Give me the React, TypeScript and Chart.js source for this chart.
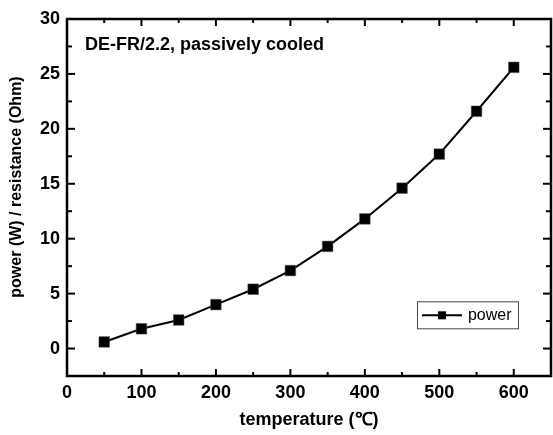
import React, { useEffect, useRef } from "react";
import { Chart, registerables } from "chart.js";

Chart.register(...registerables);

const temperatures = [50, 100, 150, 200, 250, 300, 350, 400, 450, 500, 550, 600];
const power = [0.6, 1.8, 2.6, 4.0, 5.4, 7.1, 9.3, 11.8, 14.6, 17.7, 21.6, 25.6];
const xTickValues = [0, 100, 200, 300, 400, 500, 600];
const xMinorValues = [50, 150, 250, 350, 450, 550];
const yTickValues = [0, 5, 10, 15, 20, 25, 30];
const yMinorValues = [-2.5, 2.5, 7.5, 12.5, 17.5, 22.5, 27.5];
const seriesLabel = "power";
const annotationText = "DE-FR/2.2, passively cooled";
const xTitle = "temperature (\u2103)";
const yTitle = "power (W) / resistance (Ohm)";

const FONT = "'Liberation Sans', Arial, Helvetica, sans-serif";

const framePlugin = {
  id: "frame",
  afterDraw(chart: any) {
    const { ctx, chartArea } = chart;
    const { left, right, top, bottom } = chartArea;
    const xs = chart.scales.x;
    const ys = chart.scales.y;
    ctx.save();
    ctx.strokeStyle = "#000";
    ctx.lineWidth = 2.5;
    ctx.strokeRect(left, top, right - left, bottom - top);
    ctx.lineWidth = 2;
    const tick = (x1: number, y1: number, x2: number, y2: number) => {
      ctx.beginPath();
      ctx.moveTo(x1, y1);
      ctx.lineTo(x2, y2);
      ctx.stroke();
    };
    xTickValues.forEach((v) => {
      const px = xs.getPixelForValue(v);
      tick(px, bottom, px, bottom - 7);
      tick(px, top, px, top + 7);
    });
    xMinorValues.forEach((v) => {
      const px = xs.getPixelForValue(v);
      tick(px, bottom, px, bottom - 4);
      tick(px, top, px, top + 4);
    });
    yTickValues.forEach((v) => {
      const py = ys.getPixelForValue(v);
      tick(left, py, left + 8, py);
      tick(right, py, right - 8, py);
    });
    yMinorValues.forEach((v) => {
      const py = ys.getPixelForValue(v);
      tick(left, py, left + 5, py);
      tick(right, py, right - 5, py);
    });

    ctx.fillStyle = "#000";
    ctx.textBaseline = "middle";

    // y axis title
    ctx.save();
    ctx.translate(17, 187);
    ctx.rotate(-Math.PI / 2);
    ctx.textAlign = "center";
    ctx.font = `bold 16px ${FONT}`;
    ctx.fillText(yTitle, 0, 0);
    ctx.restore();

    // annotation text
    ctx.font = `bold 18px ${FONT}`;
    ctx.textAlign = "left";
    ctx.fillText(annotationText, left + 18, top + 26);

    // legend box
    const bx = xs.getPixelForValue(470);
    const by = ys.getPixelForValue(4.3);
    const bw = 101;
    const bh = 27;
    ctx.lineWidth = 1;
    ctx.strokeStyle = "#444";
    ctx.strokeRect(bx + 0.5, by + 0.5, bw, bh);
    const cy = by + bh / 2 + 0.5;
    ctx.strokeStyle = "#000";
    ctx.lineWidth = 2;
    tick(bx + 5, cy, bx + 45, cy);
    ctx.fillStyle = "#000";
    ctx.fillRect(bx + 21, cy - 4, 8, 8);
    ctx.font = `16px ${FONT}`;
    ctx.fillText(seriesLabel, bx + 51, cy);
    ctx.restore();
  },
};

export default function App() {
  const ref = useRef<HTMLCanvasElement | null>(null);
  useEffect(() => {
    document.body.style.margin = "0";
    if (!ref.current) return;
    const chart = new Chart(ref.current, {
      type: "line",
      data: {
        datasets: [
          {
            label: seriesLabel,
            data: temperatures.map((t, i) => ({ x: t, y: power[i] })),
            borderColor: "#000",
            backgroundColor: "#000",
            borderWidth: 2,
            pointStyle: "rect",
            pointRadius: 7.5,
            pointBorderWidth: 0.5,
            pointBorderColor: "#555",
            tension: 0,
          },
        ],
      },
      options: {
        animation: false,
        responsive: false,
        layout: { autoPadding: false, padding: { top: 19, right: 2, left: 0, bottom: 0 } },
        plugins: {
          legend: { display: false },
          tooltip: { enabled: false },
        },
        scales: {
          x: {
            type: "linear",
            min: 0,
            max: 650,
            grid: { display: false, drawTicks: false },
            border: { display: false },
            afterBuildTicks: (s: any) => {
              s.ticks = xTickValues.map((v) => ({ value: v }));
            },
            afterFit: (s: any) => {
              s.height = 59;
              s.paddingLeft = 0;
              s.paddingRight = 0;
            },
            ticks: {
              color: "#000",
              padding: 6,
              maxRotation: 0,
              font: { family: FONT, size: 18, weight: "bold" },
            },
            title: {
              display: true,
              text: xTitle,
              color: "#000",
              padding: { top: 0 },
              font: { family: FONT, size: 18, weight: "bold" },
            },
          },
          y: {
            type: "linear",
            min: -2.5,
            max: 30,
            grid: { display: false, drawTicks: false },
            border: { display: false },
            afterBuildTicks: (s: any) => {
              s.ticks = yTickValues.map((v) => ({ value: v }));
            },
            afterFit: (s: any) => {
              s.width = 67;
              s.paddingTop = 0;
              s.paddingBottom = 0;
            },
            ticks: {
              color: "#000",
              padding: 7,
              font: { family: FONT, size: 18, weight: "bold" },
            },
            title: { display: false },
          },
        },
      },
      plugins: [framePlugin],
    } as any);
    return () => chart.destroy();
  }, []);
  return <canvas ref={ref} width={553} height={435} style={{ display: "block" }} />;
}
